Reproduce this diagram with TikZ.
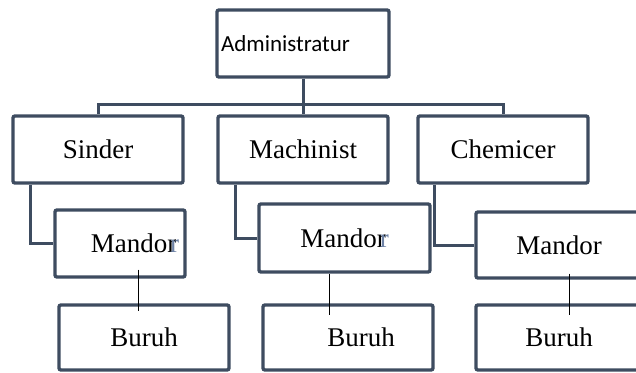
\documentclass[tikz,border=0pt]{standalone}
\usepackage{fontspec}
\setmainfont{Liberation Serif}
\newfontfamily\headfont{Carlito}
\usetikzlibrary{calc}
\definecolor{boxline}{RGB}{62,76,96}
\definecolor{ghostr}{RGB}{110,130,165}
\tikzstyle{block} = [draw=boxline, line width=3.4pt, rectangle, rounded corners=2pt, text centered, minimum width=170pt, minimum height=67pt, inner sep=0pt, font=\fontsize{27}{31}\selectfont]
\tikzstyle{head} = [block, minimum width=172pt, text width=164pt, align=left, font=\headfont\fontsize{23}{27}\selectfont]
\tikzstyle{line} = [draw=boxline, line width=3pt]
\tikzstyle{thinline} = [draw=black, line width=1pt]
\newcommand{\mandorr}{Mandor\kern-6pt\textcolor{ghostr}{r}}
\begin{document}
\begin{tikzpicture}[x=1pt, y=-1pt]
        \useasboundingbox (0,0) rectangle (636,372);
        % top level
        \node[head] (adm) at (303,43.5) {Administratur};
        % second level
        \node[block] (sinder) at (98,149.5) {Sinder};
        \node[block] (mach) at (303,149.5) {Machinist};
        \node[block] (chem) at (503,149.5) {Chemicer};
        % foremen
        \node[block, minimum width=130pt] (mandor1) at (120,243.5) {\hspace*{30pt}\mandorr};
        \node[block, minimum width=171pt, minimum height=68pt] (mandor2) at (344.5,238) {\mandorr};
        \node[block, minimum width=166pt, minimum height=66pt] (mandor3) at (559,245) {Mandor};
        % workers
        \node[block, minimum height=65pt] (buruh1) at (144,337.5) {Buruh};
        \node[block, minimum height=65pt] (buruh2) at (348,337.5) {\hspace*{26pt}Buruh};
        \node[block, minimum width=166pt, minimum height=65pt] (buruh3) at (559,337.5) {Buruh};
        % connectors
        \path[line] (adm.south) -- ++(0,26) coordinate (bar);
        \path[line] (sinder.north) |- (bar) -| (chem.north);
        \path[line] (bar) -- (mach.north);
        \path[line] ($(sinder.south west)+(19,0)$) |- (mandor1.west);
        \path[line] ($(mach.south west)+(19,0)$) |- (mandor2.west);
        \path[line] ($(chem.south west)+(18,0)$) |- (mandor3.west);
        \path[thinline] ([xshift=18pt,yshift=9pt]mandor1.south) -- ([xshift=-6pt,yshift=-8pt]buruh1.north);
        \path[thinline] ([xshift=-15.5pt]mandor2.south) -- ([xshift=-19pt,yshift=-12pt]buruh2.north);
        \path[thinline] ([xshift=10pt,yshift=6pt]mandor3.south) -- ([xshift=10pt,yshift=-12pt]buruh3.north);
    \end{tikzpicture}
\end{document}
